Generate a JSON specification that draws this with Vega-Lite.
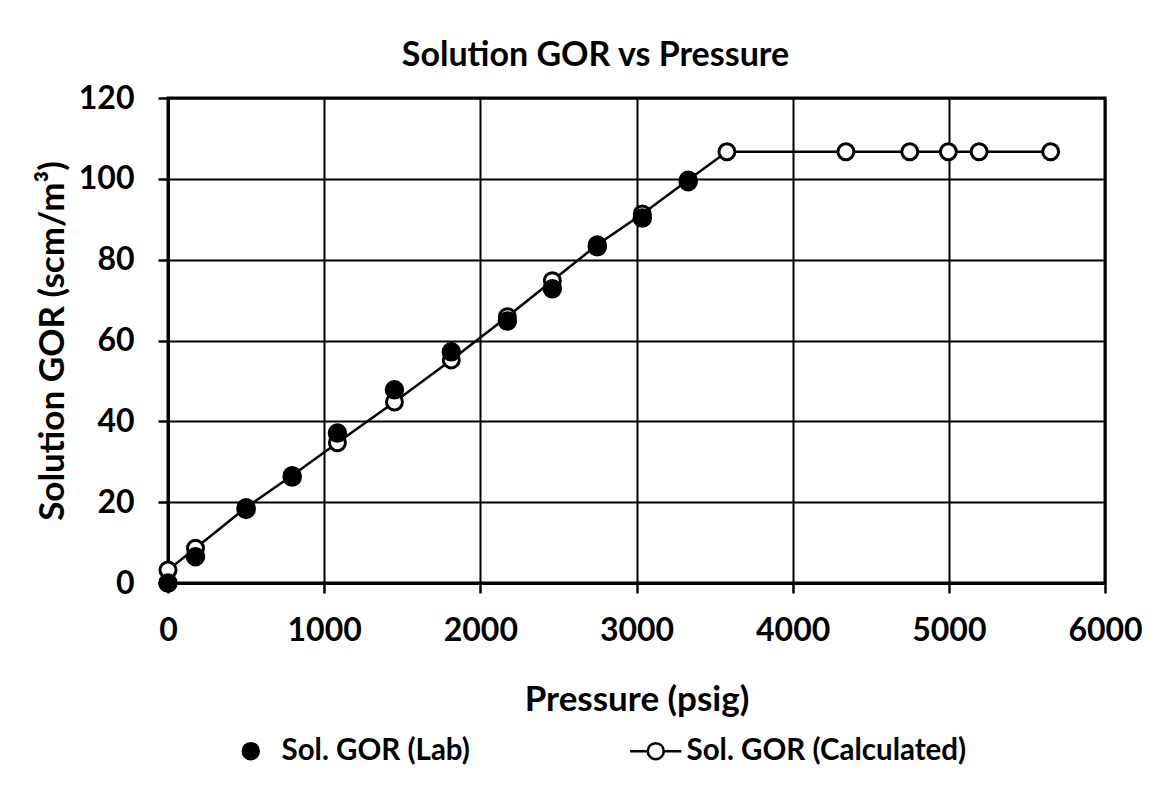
{
  "$schema": "https://vega.github.io/schema/vega-lite/v6.json",
  "autosize": {"type": "none"},
  "width": 937,
  "height": 485,
  "padding": {"left": 168, "top": 98, "right": 70, "bottom": 215},
  "background": "white",
  "title": {
    "text": "Solution GOR vs Pressure",
    "anchor": "middle",
    "frame": "group",
    "baseline": "alphabetic",
    "offset": -18,
    "dx": -41,
    "font": "Lato",
    "fontSize": 34,
    "fontWeight": "bold",
    "color": "black"
  },
  "data": {
    "values": [
      {"pressure": 0, "gor": 0, "series": "Sol. GOR (Lab)"},
      {"pressure": 176, "gor": 6.5, "series": "Sol. GOR (Lab)"},
      {"pressure": 500, "gor": 18.2, "series": "Sol. GOR (Lab)"},
      {"pressure": 795, "gor": 26.2, "series": "Sol. GOR (Lab)"},
      {"pressure": 1085, "gor": 37.1, "series": "Sol. GOR (Lab)"},
      {"pressure": 1450, "gor": 47.8, "series": "Sol. GOR (Lab)"},
      {"pressure": 1814, "gor": 57.2, "series": "Sol. GOR (Lab)"},
      {"pressure": 2173, "gor": 64.8, "series": "Sol. GOR (Lab)"},
      {"pressure": 2461, "gor": 72.8, "series": "Sol. GOR (Lab)"},
      {"pressure": 2749, "gor": 83.2, "series": "Sol. GOR (Lab)"},
      {"pressure": 3037, "gor": 90.3, "series": "Sol. GOR (Lab)"},
      {"pressure": 3331, "gor": 99.3, "series": "Sol. GOR (Lab)"},
      {"pressure": 0, "gor": 3.2, "series": "Sol. GOR (Calculated)"},
      {"pressure": 176, "gor": 8.6, "series": "Sol. GOR (Calculated)"},
      {"pressure": 500, "gor": 18.7, "series": "Sol. GOR (Calculated)"},
      {"pressure": 795, "gor": 26.6, "series": "Sol. GOR (Calculated)"},
      {"pressure": 1085, "gor": 34.7, "series": "Sol. GOR (Calculated)"},
      {"pressure": 1450, "gor": 44.8, "series": "Sol. GOR (Calculated)"},
      {"pressure": 1814, "gor": 55.2, "series": "Sol. GOR (Calculated)"},
      {"pressure": 2173, "gor": 65.9, "series": "Sol. GOR (Calculated)"},
      {"pressure": 2461, "gor": 74.8, "series": "Sol. GOR (Calculated)"},
      {"pressure": 2749, "gor": 83.7, "series": "Sol. GOR (Calculated)"},
      {"pressure": 3037, "gor": 91.3, "series": "Sol. GOR (Calculated)"},
      {"pressure": 3331, "gor": 99.7, "series": "Sol. GOR (Calculated)"},
      {"pressure": 3579, "gor": 106.7, "series": "Sol. GOR (Calculated)"},
      {"pressure": 4341, "gor": 106.7, "series": "Sol. GOR (Calculated)"},
      {"pressure": 4750, "gor": 106.7, "series": "Sol. GOR (Calculated)"},
      {"pressure": 4997, "gor": 106.7, "series": "Sol. GOR (Calculated)"},
      {"pressure": 5194, "gor": 106.7, "series": "Sol. GOR (Calculated)"},
      {"pressure": 5652, "gor": 106.7, "series": "Sol. GOR (Calculated)"}
    ]
  },
  "encoding": {
    "x": {
      "field": "pressure",
      "type": "quantitative",
      "scale": {"domain": [0, 6000], "nice": false, "zero": false},
      "axis": {
        "title": "Pressure (psig)",
        "values": [0, 1000, 2000, 3000, 4000, 5000, 6000],
        "format": "d",
        "labelFlush": false,
        "labelPadding": 22,
        "titlePadding": 36
      }
    },
    "y": {
      "field": "gor",
      "type": "quantitative",
      "scale": {"domain": [0, 120], "nice": false},
      "axis": {
        "title": "Solution GOR (scm/m³)",
        "values": [0, 20, 40, 60, 80, 100, 120],
        "format": "d",
        "labelFlush": false,
        "labelPadding": 24,
        "titlePadding": 8
      }
    }
  },
  "layer": [
    {
      "transform": [{"filter": "datum.series === 'Sol. GOR (Calculated)'"}],
      "mark": {"type": "line", "stroke": "black", "strokeWidth": 2.5},
      "encoding": {"order": {"field": "pressure", "type": "quantitative"}}
    },
    {
      "transform": [{"filter": "datum.series === 'Sol. GOR (Calculated)'"}],
      "mark": {"type": "point", "shape": "circle", "filled": true, "size": 256, "stroke": "black", "strokeWidth": 3, "opacity": 1},
      "encoding": {
        "fill": {
          "field": "series",
          "type": "nominal",
          "scale": {"domain": ["Sol. GOR (Lab)", "Sol. GOR (Calculated)"], "range": ["black", "white"]},
          "legend": {
            "title": null,
            "orient": "none",
            "direction": "horizontal",
            "columns": 2,
            "legendX": 68,
            "legendY": 638,
            "columnPadding": 155,
            "symbolSize": 256,
            "symbolStrokeColor": "black",
            "symbolStrokeWidth": 2.5,
            "symbolOpacity": 1,
            "labelOffset": 16,
            "labelFont": "Lato",
            "labelFontSize": 29.5,
            "labelFontWeight": "bold",
            "labelColor": "black",
            "labelLimit": 400,
            "padding": 0,
            "encode": {
              "symbols": {
                "update": {
                  "shape": {"signal": "datum.value === 'Sol. GOR (Calculated)' ? 'M-3.2,0L-1,0M1,0A1,1,0,1,1,-1,0A1,1,0,1,1,1,0M1,0L3.2,0' : 'circle'"},
                  "stroke": {"value": "black"},
                  "strokeWidth": {"value": 2.5}
                }
              }
            }
          }
        }
      }
    },
    {
      "transform": [{"filter": "datum.series === 'Sol. GOR (Lab)'"}],
      "mark": {"type": "point", "shape": "circle", "filled": true, "size": 324, "stroke": "black", "strokeWidth": 1.5, "opacity": 1},
      "encoding": {
        "fill": {"field": "series", "type": "nominal"}
      }
    }
  ],
  "config": {
    "view": {"stroke": "black", "strokeWidth": 3},
    "axis": {
      "grid": true,
      "gridColor": "black",
      "gridWidth": 2,
      "gridOpacity": 1,
      "domain": true,
      "domainColor": "black",
      "domainWidth": 3,
      "ticks": true,
      "tickColor": "black",
      "tickWidth": 2.5,
      "tickSize": 10,
      "labelFont": "Lato",
      "labelFontSize": 32,
      "labelFontWeight": "bold",
      "labelColor": "black",
      "labelOverlap": false,
      "titleFont": "Lato",
      "titleFontSize": 35,
      "titleFontWeight": "bold",
      "titleColor": "black"
    }
  }
}
